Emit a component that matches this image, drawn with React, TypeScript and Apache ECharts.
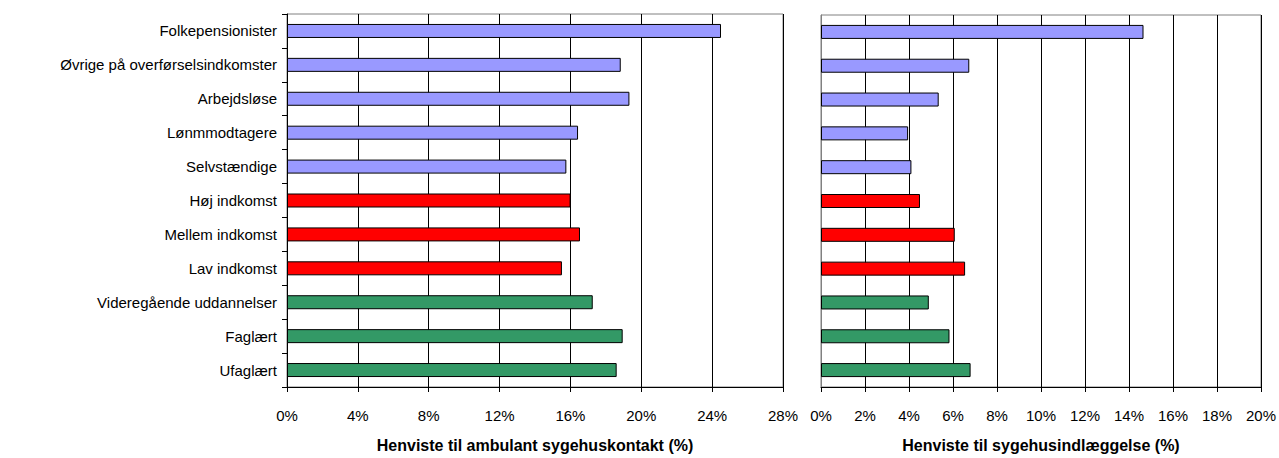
import React, { useEffect, useRef } from "react";
import * as echarts from "echarts";

const categories = [
  "Folkepensionister",
  "Øvrige på overførselsindkomster",
  "Arbejdsløse",
  "Lønmmodtagere",
  "Selvstændige",
  "Høj indkomst",
  "Mellem indkomst",
  "Lav indkomst",
  "Videregående uddannelser",
  "Faglært",
  "Ufaglært",
];
const groupOf = [0, 0, 0, 0, 0, 1, 1, 1, 2, 2, 2];
const groupColors = ["#9999FF", "#FF0000", "#339966"];
const ambulant = [24.5, 18.84, 19.33, 16.43, 15.77, 16.01, 16.54, 15.52, 17.26, 18.95, 18.61];
const indlaeggelse = [14.66, 6.74, 5.35, 3.96, 4.11, 4.5, 6.08, 6.55, 4.9, 5.84, 6.8];
const leftTicks = { min: 0, max: 28, interval: 4 };
const rightTicks = { min: 0, max: 20, interval: 2 };
const leftTitle = "Henviste til ambulant sygehuskontakt (%)";
const rightTitle = "Henviste til sygehusindlæggelse (%)";

const FONT = "Liberation Sans, Arial, sans-serif";

function mkData(vals: number[]) {
  return vals.map((v, i) => ({
    value: v,
    itemStyle: { color: groupColors[groupOf[i]], borderColor: "#000", borderWidth: 1 },
  }));
}

function xAxisOf(gridIndex: number, t: { min: number; max: number; interval: number }, name: string) {
  return {
    type: "value",
    gridIndex,
    min: t.min,
    max: t.max,
    interval: t.interval,
    name,
    nameLocation: "middle",
    nameGap: 50,
    nameTextStyle: { fontFamily: FONT, fontSize: 16, fontWeight: "bold", color: "#000" },
    axisLine: { show: true, lineStyle: { color: "#000", width: 1 } },
    axisTick: { show: true, length: 5, lineStyle: { color: "#000" } },
    axisLabel: {
      fontFamily: FONT,
      fontSize: 15,
      color: "#000",
      margin: 21,
      formatter: (v: number) => v + "%",
    },
    splitLine: { show: true, lineStyle: { color: "#000", width: 1 } },
  };
}

export default function App() {
  const ref = useRef<HTMLDivElement>(null);
  useEffect(() => {
    document.body.style.margin = "0";
    const chart = echarts.init(ref.current!, undefined, { renderer: "svg" });
    chart.setOption({
      animation: false,
      backgroundColor: "#fff",
      grid: [
        { left: 287, right: 496, top: 14, bottom: 70, show: true, borderColor: "#808080", borderWidth: 1 },
        { left: 821, right: 17, top: 15, bottom: 70, show: true, borderColor: "#808080", borderWidth: 1 },
      ],
      xAxis: [xAxisOf(0, leftTicks, leftTitle), xAxisOf(1, rightTicks, rightTitle)],
      yAxis: [
        {
          type: "category",
          gridIndex: 0,
          data: categories,
          inverse: true,
          axisLine: { show: true, lineStyle: { color: "#000" } },
          axisTick: { show: true, length: 5, lineStyle: { color: "#000" } },
          axisLabel: { fontFamily: FONT, fontSize: 15, color: "#000", margin: 10 },
          splitLine: { show: false },
        },
        {
          type: "category",
          gridIndex: 1,
          data: categories,
          inverse: true,
          axisLine: { show: true, lineStyle: { color: "#808080" } },
          axisTick: { show: false },
          axisLabel: { show: false },
          splitLine: { show: false },
        },
      ],
      series: [
        {
          type: "bar",
          xAxisIndex: 0,
          yAxisIndex: 0,
          data: mkData(ambulant),
          barWidth: 14,
        },
        {
          type: "bar",
          xAxisIndex: 1,
          yAxisIndex: 1,
          data: mkData(indlaeggelse),
          barWidth: 14,
        },
      ],
    });
    return () => chart.dispose();
  }, []);
  return <div ref={ref} style={{ width: 1279, height: 458 }} />;
}
